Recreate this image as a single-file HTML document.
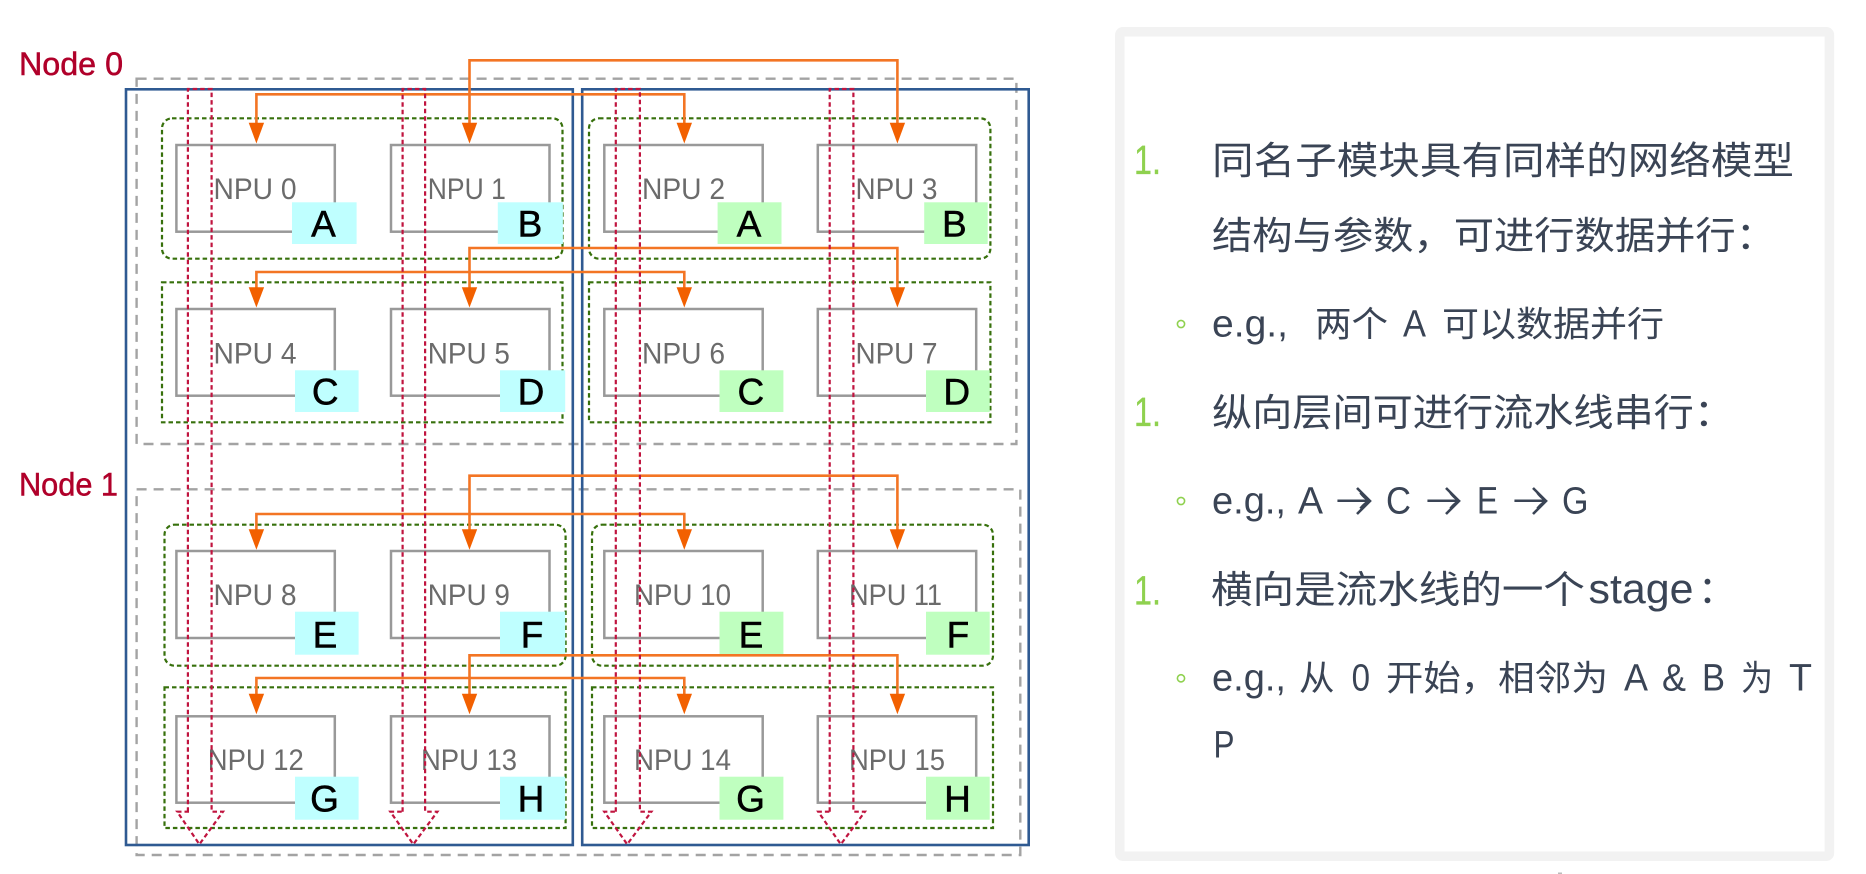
<!DOCTYPE html>
<html lang="zh">
<head>
<meta charset="utf-8">
<title>NPU diagram</title>
<style>
html,body{margin:0;padding:0;background:#fff;width:1866px;height:874px;overflow:hidden}
svg{display:block}
text{font-family:"Liberation Sans","Noto Sans CJK SC",sans-serif}
.gray{fill:none;stroke:#a3a3a3;stroke-width:2.4;stroke-dasharray:10 7}
.blue{fill:none;stroke:#2f5a92;stroke-width:2.6}
.green{fill:none;stroke:#37700c;stroke-width:2.2;stroke-dasharray:4.5 3}
.npu{fill:none;stroke:#999;stroke-width:2.5}
.t{font-size:30px;fill:#6b6b6b}
.l{font-size:37px;fill:#000;text-anchor:middle;stroke:#000;stroke-width:.5}
.or{fill:none;stroke:#f37524;stroke-width:2.6}
.oh{fill:#f26000}
.red{fill:none;stroke:#c0143f;stroke-width:2.2;stroke-dasharray:4.5 3}
.n{font-size:32px;fill:#b0002a;stroke:#b0002a;stroke-width:.5}
.num{font-size:41px;fill:#8fd14f;stroke:#8fd14f;stroke-width:.3}
.m{font-size:38px;fill:#3a4455}
.s{font-size:35px;fill:#3a4455}
.e{font-size:38px;fill:#3a4455}
.a{font-family:"Noto Sans CJK SC","DejaVu Sans",sans-serif;font-size:36px;fill:#3a4455}
.chev{fill:none;stroke:#3a4455;stroke-width:2.6}
.ring{fill:none;stroke:#8fd14f;stroke-width:1.6}
</style>
</head>
<body>
<svg width="1866" height="874" viewBox="0 0 1866 874" xmlns="http://www.w3.org/2000/svg">
<rect width="1866" height="874" fill="#fff"/>

<!-- node frames -->
<rect class="gray" x="136.6" y="78.7" width="879.8" height="365.3"/>
<rect class="gray" x="136.6" y="489.3" width="883.7" height="365.7"/>
<rect class="blue" x="126" y="89.3" width="446.8" height="755.7"/>
<rect class="blue" x="582.2" y="89.3" width="446.5" height="755.7"/>

<!-- green groups -->
<rect class="green" x="162" y="118.3" width="400.5" height="140.4" rx="10"/>
<rect class="green" x="162" y="282.3" width="400.5" height="140"/>
<rect class="green" x="589" y="118.3" width="401.4" height="140.4" rx="10"/>
<rect class="green" x="589" y="282.3" width="401.4" height="140"/>
<rect class="green" x="164.5" y="524.7" width="401.1" height="141" rx="10"/>
<rect class="green" x="164.5" y="687.3" width="401.1" height="140.7"/>
<rect class="green" x="592" y="524.7" width="401" height="141" rx="10"/>
<rect class="green" x="592" y="687.3" width="401" height="140.7"/>

<!-- NPU boxes -->
<rect class="npu" x="176.4" y="145" width="158.4" height="86.7"/>
<rect class="npu" x="391" y="145" width="158.5" height="86.7"/>
<rect class="npu" x="604.3" y="145" width="158.4" height="86.7"/>
<rect class="npu" x="817.8" y="145" width="158.4" height="86.7"/>
<rect class="npu" x="176.4" y="309" width="158.4" height="86.7"/>
<rect class="npu" x="391" y="309" width="158.5" height="86.7"/>
<rect class="npu" x="604.3" y="309" width="158.4" height="86.7"/>
<rect class="npu" x="817.8" y="309" width="158.4" height="86.7"/>
<rect class="npu" x="176.4" y="551" width="158.4" height="87"/>
<rect class="npu" x="391" y="551" width="158.5" height="87"/>
<rect class="npu" x="604.3" y="551" width="158.4" height="87"/>
<rect class="npu" x="817.8" y="551" width="158.4" height="87"/>
<rect class="npu" x="176.4" y="716.3" width="158.4" height="86.4"/>
<rect class="npu" x="391" y="716.3" width="158.5" height="86.4"/>
<rect class="npu" x="604.3" y="716.3" width="158.4" height="86.4"/>
<rect class="npu" x="817.8" y="716.3" width="158.4" height="86.4"/>

<!-- NPU text -->
<text class="t" x="213.5" y="199" textLength="83" lengthAdjust="spacingAndGlyphs">NPU 0</text>
<text class="t" x="427.8" y="199" textLength="78" lengthAdjust="spacingAndGlyphs">NPU 1</text>
<text class="t" x="642" y="199" textLength="83" lengthAdjust="spacingAndGlyphs">NPU 2</text>
<text class="t" x="855.5" y="199" textLength="82" lengthAdjust="spacingAndGlyphs">NPU 3</text>
<text class="t" x="213.5" y="363.3" textLength="83" lengthAdjust="spacingAndGlyphs">NPU 4</text>
<text class="t" x="427.8" y="363.3" textLength="82" lengthAdjust="spacingAndGlyphs">NPU 5</text>
<text class="t" x="642" y="363.3" textLength="83" lengthAdjust="spacingAndGlyphs">NPU 6</text>
<text class="t" x="855.5" y="363.3" textLength="82" lengthAdjust="spacingAndGlyphs">NPU 7</text>
<text class="t" x="213.5" y="605" textLength="83" lengthAdjust="spacingAndGlyphs">NPU 8</text>
<text class="t" x="427.8" y="605" textLength="82" lengthAdjust="spacingAndGlyphs">NPU 9</text>
<text class="t" x="634" y="605" textLength="97" lengthAdjust="spacingAndGlyphs">NPU 10</text>
<text class="t" x="849" y="605" textLength="93" lengthAdjust="spacingAndGlyphs">NPU 11</text>
<text class="t" x="207.8" y="770" textLength="96" lengthAdjust="spacingAndGlyphs">NPU 12</text>
<text class="t" x="421" y="770" textLength="96" lengthAdjust="spacingAndGlyphs">NPU 13</text>
<text class="t" x="634" y="770" textLength="97" lengthAdjust="spacingAndGlyphs">NPU 14</text>
<text class="t" x="849" y="770" textLength="96" lengthAdjust="spacingAndGlyphs">NPU 15</text>

<!-- letter tags -->
<g fill="#bfffff">
<rect x="292" y="202.3" width="64.6" height="41.7"/>
<rect x="497.8" y="202.3" width="65.1" height="41.7"/>
<rect x="295" y="370.3" width="63.6" height="41.7"/>
<rect x="500" y="370.3" width="65.2" height="41.7"/>
<rect x="295" y="611.7" width="63.6" height="43"/>
<rect x="500" y="611.7" width="65.2" height="43"/>
<rect x="295" y="776.7" width="63.6" height="43"/>
<rect x="500" y="776.7" width="65.2" height="43"/>
</g>
<g fill="#bfffbf">
<rect x="717.6" y="202.3" width="63.9" height="41.7"/>
<rect x="924.2" y="202.3" width="63.5" height="41.7"/>
<rect x="719.5" y="370.3" width="63.9" height="41.7"/>
<rect x="926" y="370.3" width="63.7" height="41.7"/>
<rect x="719.5" y="611.7" width="63.9" height="43"/>
<rect x="926" y="611.7" width="63.7" height="43"/>
<rect x="719.5" y="776.7" width="63.9" height="43"/>
<rect x="926" y="776.7" width="63.7" height="43"/>
</g>
<text class="l" x="323.5" y="236.7">A</text>
<text class="l" x="530" y="236.7">B</text>
<text class="l" x="749" y="236.7">A</text>
<text class="l" x="954.4" y="236.7">B</text>
<text class="l" x="325.3" y="404.7">C</text>
<text class="l" x="531" y="404.7">D</text>
<text class="l" x="750.9" y="404.7">C</text>
<text class="l" x="956.7" y="404.7">D</text>
<text class="l" x="325" y="647.3">E</text>
<text class="l" x="532" y="647.3">F</text>
<text class="l" x="751" y="647.3">E</text>
<text class="l" x="957.9" y="647.3">F</text>
<text class="l" x="324.5" y="811.7">G</text>
<text class="l" x="531" y="811.7">H</text>
<text class="l" x="750.5" y="811.7">G</text>
<text class="l" x="957.5" y="811.7">H</text>

<!-- orange connectors -->
<path class="or" d="M469.5 124V60.3H897.4V124"/>
<path class="or" d="M256.4 124V94.3H684.3V124"/>
<path class="or" d="M469.5 288V248H897.4V288"/>
<path class="or" d="M256.4 288V272H684.3V288"/>
<path class="or" d="M469.5 530V475.7H897.4V530"/>
<path class="or" d="M256.4 530V514H684.3V530"/>
<path class="or" d="M469.5 694V655.3H897.4V694"/>
<path class="or" d="M256.4 694V678H684.3V694"/>
<polygon class="oh" points="248.7,122.7 264.1,122.7 256.4,143.5"/>
<polygon class="oh" points="461.8,122.7 477.2,122.7 469.5,143.5"/>
<polygon class="oh" points="676.6,122.7 692,122.7 684.3,143.5"/>
<polygon class="oh" points="889.7,122.7 905.1,122.7 897.4,143.5"/>
<polygon class="oh" points="248.7,287.3 264.1,287.3 256.4,307.5"/>
<polygon class="oh" points="461.8,287.3 477.2,287.3 469.5,307.5"/>
<polygon class="oh" points="676.6,287.3 692,287.3 684.3,307.5"/>
<polygon class="oh" points="889.7,287.3 905.1,287.3 897.4,307.5"/>
<polygon class="oh" points="248.7,529.3 264.1,529.3 256.4,549.8"/>
<polygon class="oh" points="461.8,529.3 477.2,529.3 469.5,549.8"/>
<polygon class="oh" points="676.6,529.3 692,529.3 684.3,549.8"/>
<polygon class="oh" points="889.7,529.3 905.1,529.3 897.4,549.8"/>
<polygon class="oh" points="248.7,693.7 264.1,693.7 256.4,714.2"/>
<polygon class="oh" points="461.8,693.7 477.2,693.7 469.5,714.2"/>
<polygon class="oh" points="676.6,693.7 692,693.7 684.3,714.2"/>
<polygon class="oh" points="889.7,693.7 905.1,693.7 897.4,714.2"/>

<!-- red block arrows -->
<path class="red" d="M187.9 811.7V89H211.6V811.7H223L199.4 844.3L177.2 811.7Z"/>
<path class="red" d="M402.6 811.7V89H425.1V811.7H437.4L413.3 844.3L390.3 811.7Z"/>
<path class="red" d="M615.8 811.7V89H639.9V811.7H651.4L627.2 844.3L604.3 811.7Z"/>
<path class="red" d="M829.7 811.7V89H853.4V811.7H864.9L840.8 844.3L818.2 811.7Z"/>

<!-- node labels -->
<text class="n" x="19" y="75" textLength="104" lengthAdjust="spacingAndGlyphs">Node 0</text>
<text class="n" x="19" y="495.7" textLength="99" lengthAdjust="spacingAndGlyphs">Node 1</text>

<!-- right panel -->
<rect x="1119.8" y="31.8" width="709.6" height="824.4" rx="3" fill="#fff" stroke="#f2f2f2" stroke-width="9.5"/>

<text class="num" x="1134" y="174" textLength="27" lengthAdjust="spacingAndGlyphs">1.</text>
<text class="m" x="1212" y="174" textLength="582" lengthAdjust="spacingAndGlyphs">同名子模块具有同样的网络模型</text>
<text class="m" x="1212" y="249" textLength="564" lengthAdjust="spacingAndGlyphs">结构与参数，可进行数据并行：</text>

<circle class="ring" cx="1181" cy="324" r="3.6"/>
<text class="e" x="1212" y="336.7" textLength="76" lengthAdjust="spacingAndGlyphs">e.g.,</text>
<text class="s" x="1315" y="336.7" textLength="73" lengthAdjust="spacingAndGlyphs">两个</text>
<text class="e" x="1403" y="336.7" textLength="23" lengthAdjust="spacingAndGlyphs">A</text>
<text class="s" x="1442" y="336.7" textLength="222" lengthAdjust="spacingAndGlyphs">可以数据并行</text>

<text class="num" x="1134" y="426" textLength="27" lengthAdjust="spacingAndGlyphs">1.</text>
<text class="m" x="1212" y="426" textLength="522" lengthAdjust="spacingAndGlyphs">纵向层间可进行流水线串行：</text>

<circle class="ring" cx="1181" cy="501" r="3.6"/>
<text class="e" x="1212" y="513.3" textLength="74" lengthAdjust="spacingAndGlyphs">e.g.,</text>
<text class="e" x="1298" y="513.3" textLength="25" lengthAdjust="spacingAndGlyphs">A</text>
<text class="a" x="1336" y="514" textLength="36" lengthAdjust="spacingAndGlyphs">→</text>
<path class="chev" d="M1357 488L1370 501L1357 514"/>
<text class="e" x="1386" y="513.3" textLength="25" lengthAdjust="spacingAndGlyphs">C</text>
<text class="a" x="1426" y="514" textLength="36" lengthAdjust="spacingAndGlyphs">→</text>
<path class="chev" d="M1446 488L1459 501L1446 514"/>
<text class="e" x="1477" y="513.3" textLength="21" lengthAdjust="spacingAndGlyphs">E</text>
<text class="a" x="1513" y="514" textLength="36" lengthAdjust="spacingAndGlyphs">→</text>
<path class="chev" d="M1533 488L1546 501L1533 514"/>
<text class="e" x="1562" y="513.3" textLength="26.5" lengthAdjust="spacingAndGlyphs">G</text>

<text class="num" x="1134" y="604.3" textLength="27" lengthAdjust="spacingAndGlyphs">1.</text>
<text class="m" x="1211" y="603" textLength="374" lengthAdjust="spacingAndGlyphs">横向是流水线的一个</text>
<text class="m" style="font-size:42px" x="1588.5" y="603" textLength="105" lengthAdjust="spacingAndGlyphs">stage</text>
<text class="m" x="1698" y="603" textLength="38" lengthAdjust="spacingAndGlyphs">：</text>

<circle class="ring" cx="1181" cy="678.3" r="3.6"/>
<text class="e" x="1212" y="690.7" textLength="74" lengthAdjust="spacingAndGlyphs">e.g.,</text>
<text class="s" x="1299" y="690.7" textLength="35.5" lengthAdjust="spacingAndGlyphs">从</text>
<text class="e" x="1351.6" y="690.7" textLength="18.4" lengthAdjust="spacingAndGlyphs">0</text>
<text class="s" x="1386" y="690.7" textLength="112" lengthAdjust="spacingAndGlyphs">开始，</text>
<text class="s" x="1498" y="690.7" textLength="110" lengthAdjust="spacingAndGlyphs">相邻为</text>
<text class="e" x="1624" y="690.7" textLength="24" lengthAdjust="spacingAndGlyphs">A</text>
<text class="e" x="1662" y="690.7" textLength="24" lengthAdjust="spacingAndGlyphs">&amp;</text>
<text class="e" x="1702" y="690.7" textLength="23" lengthAdjust="spacingAndGlyphs">B</text>
<text class="s" x="1741" y="690.7" textLength="32" lengthAdjust="spacingAndGlyphs">为</text>
<text class="e" x="1789" y="690.7" textLength="23" lengthAdjust="spacingAndGlyphs">T</text>
<text class="e" x="1213.5" y="757.7" textLength="21" lengthAdjust="spacingAndGlyphs">P</text>

<rect x="1558" y="872.5" width="4" height="1.5" fill="#bbb"/>
</svg>
</body>
</html>
